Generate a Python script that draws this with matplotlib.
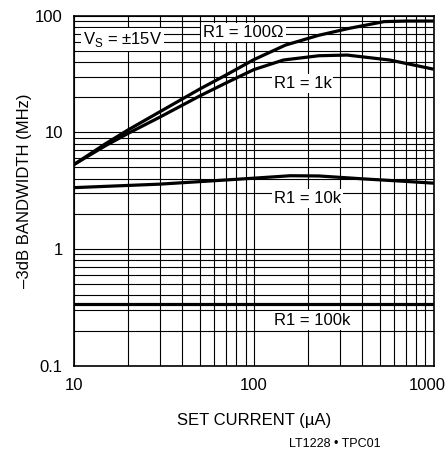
import matplotlib
matplotlib.use("Agg")
import matplotlib.pyplot as plt
from matplotlib.ticker import LogLocator, NullFormatter, FixedLocator, FixedFormatter
from matplotlib.transforms import ScaledTranslation

plt.rcParams['font.family'] = ['Liberation Sans', 'DejaVu Sans']

# set current (uA) vs -3dB bandwidth (MHz)
i_100 = [10, 15, 20, 30, 50, 70, 100, 150, 230, 340, 530, 700, 1000]
bw_100 = [5.3, 8.0, 10.5, 15.0, 23.5, 31, 42, 56, 68, 78, 89, 90, 90]
i_1k = [10, 15, 20, 30, 50, 70, 100, 146, 230, 330, 570, 1000]
bw_1k = [5.3, 7.7, 9.8, 13.5, 20.5, 26.5, 34.5, 41.7, 45.4, 46, 41.7, 34.8]
i_10k = [10, 30, 60, 100, 160, 230, 400, 700, 1000]
bw_10k = [3.36, 3.6, 3.85, 4.05, 4.25, 4.23, 4.0, 3.8, 3.67]
i_100k = [10, 1000]
bw_100k = [0.336, 0.336]

xticks = [10, 100, 1000]
xlabels = ['10', '100', '1000']
yticks = [0.1, 1, 10, 100]
ylabels = ['0.1', '1', '10', '100']

fig = plt.figure(figsize=(4.48, 4.49), dpi=100)
ax = fig.add_axes([0.165, 0.1855, 0.803, 0.7795])

for xs, ys in [(i_100, bw_100), (i_1k, bw_1k), (i_10k, bw_10k), (i_100k, bw_100k)]:
    ax.plot(xs, ys, color='black', lw=2.3, solid_capstyle='butt', zorder=3)

ax.set_xscale('log')
ax.set_yscale('log')
ax.set_xlim(10, 1000)
ax.set_ylim(0.1, 100)

ax.xaxis.set_major_locator(FixedLocator(xticks))
ax.xaxis.set_major_formatter(FixedFormatter(xlabels))
ax.yaxis.set_major_locator(FixedLocator(yticks))
ax.yaxis.set_major_formatter(FixedFormatter(ylabels))
ax.xaxis.set_minor_locator(LogLocator(base=10, subs=range(2, 10)))
ax.yaxis.set_minor_locator(LogLocator(base=10, subs=range(2, 10)))
ax.xaxis.set_minor_formatter(NullFormatter())
ax.yaxis.set_minor_formatter(NullFormatter())
ax.tick_params(which='both', length=0, labelsize=12, colors='black')
ax.tick_params(axis='x', pad=9)
ax.tick_params(axis='y', pad=8)
ax.grid(True, which='both', color='black', lw=0.8)
for s in ax.spines.values():
    s.set_linewidth(1.2)

ax.set_xlabel('SET CURRENT (\u00b5A)', fontsize=12, labelpad=14)
ax.set_ylabel('\u20133dB BANDWIDTH (MHz)', fontsize=12, labelpad=2)

box = dict(facecolor='white', edgecolor='none', pad=1.5)
ax.text(0.026, 0.931, 'V$_\\mathregular{S}$ = \u00b115V', transform=ax.transAxes,
        fontsize=12, va='center', ha='left', bbox=box, zorder=4)
ax.text(0.359, 0.953, 'R1 = 100\u03a9', transform=ax.transAxes,
        fontsize=12, va='center', ha='left', bbox=box, zorder=4)
ax.text(0.555, 0.807, 'R1 = 1k', transform=ax.transAxes,
        fontsize=12, va='center', ha='left', bbox=box, zorder=4)
ax.text(0.556, 0.479, 'R1 = 10k', transform=ax.transAxes,
        fontsize=12, va='center', ha='left', bbox=box, zorder=4)
ax.text(0.556, 0.129, 'R1 = 100k', transform=ax.transAxes,
        fontsize=12, va='center', ha='left', bbox=box, zorder=4)

fig.text(0.849, 0.011, 'LT1228 \u2022 TPC01', fontsize=9, ha='right', va='center')

# keep the "1000" label inside the figure
fig.canvas.draw()
last = ax.get_xticklabels()[-1]
last.set_transform(last.get_transform() + ScaledTranslation(-6 / 100, 0, fig.dpi_scale_trans))

fig.savefig('out.png', dpi=100)
